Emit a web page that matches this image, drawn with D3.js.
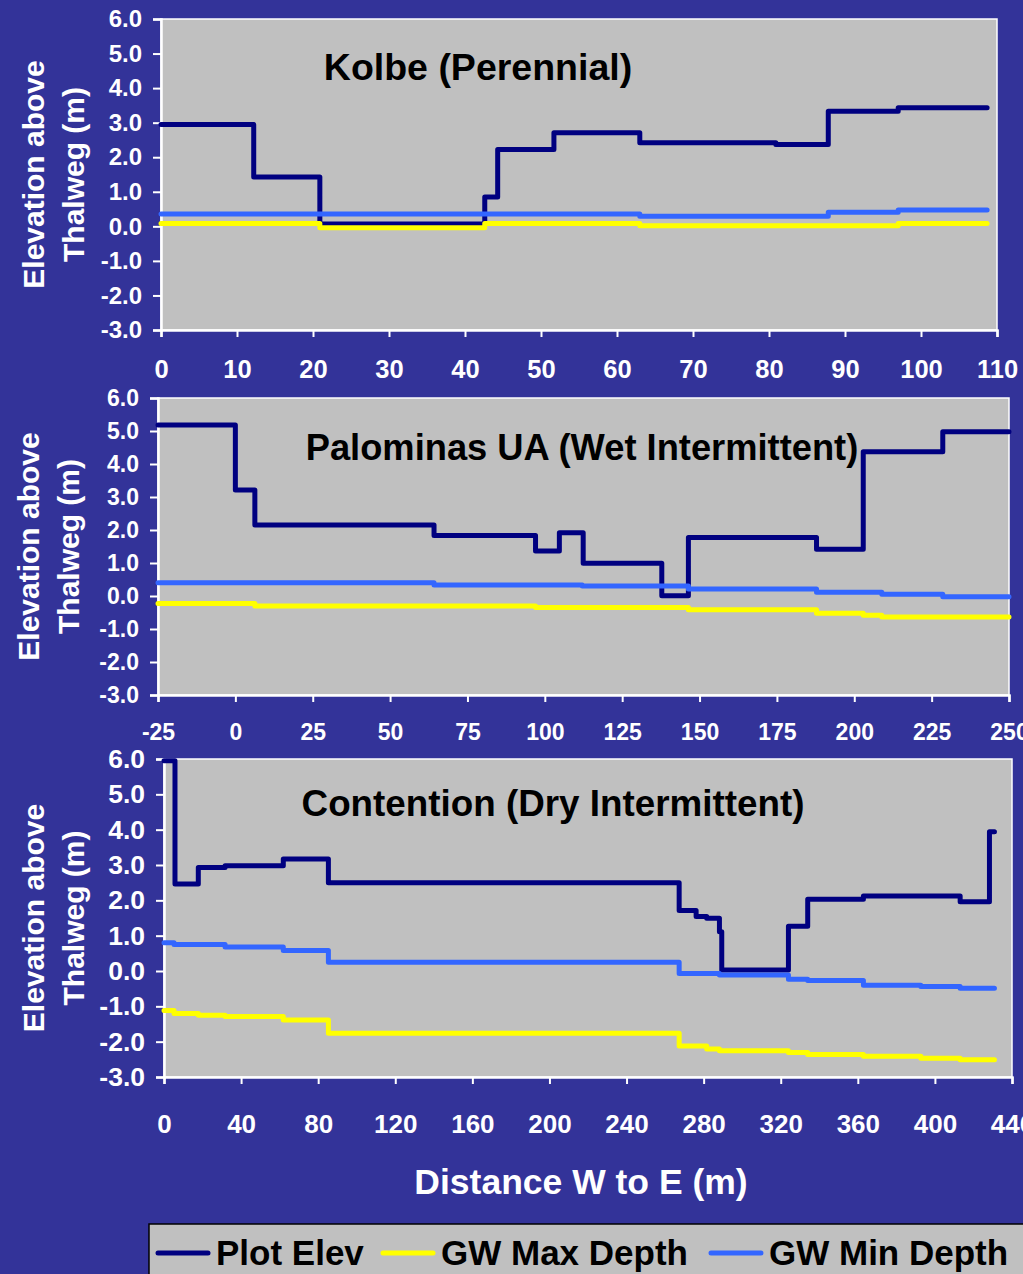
<!DOCTYPE html>
<html><head><meta charset="utf-8">
<script src="https://cdn.jsdelivr.net/npm/d3@7"></script>
<style>
html,body{margin:0;padding:0;background:#333399;}
svg{display:block;font-family:"Liberation Sans",Arial,sans-serif;font-weight:bold;}
</style></head><body>
<svg id="chart" width="1023" height="1274"></svg>
<script>
// ---------- DATA ----------
const seriesNames = ["Plot Elev", "GW Max Depth", "GW Min Depth"];
const seriesColors = ["#000080", "#FFFF00", "#3366FF"];
const yTicks = [-3, -2, -1, 0, 1, 2, 3, 4, 5, 6];

// Kolbe (Perennial)
const kolbeTitle = "Kolbe (Perennial)";
const kolbeXTicks = [0, 10, 20, 30, 40, 50, 60, 70, 80, 90, 100, 110];
const kolbeElevX = [0, 12.2, 20.9, 42.6, 44.3, 51.7, 63.0, 80.9, 87.8, 97.0, 108.7];
const kolbeElevY = [2.95, 1.43, 0.07, 0.85, 2.22, 2.71, 2.42, 2.37, 3.33, 3.43, 3.43];
const kolbeMaxX = [0, 20.9, 42.6, 63.0, 97.0, 108.7];
const kolbeMaxY = [0.08, -0.04, 0.08, 0.02, 0.08, 0.08];
const kolbeMinX = [0, 63.0, 87.8, 97.0, 108.7];
const kolbeMinY = [0.36, 0.29, 0.41, 0.47, 0.47];

// Palominas UA (Wet Intermittent)
const palTitle = "Palominas UA (Wet Intermittent)";
const palXTicks = [-25, 0, 25, 50, 75, 100, 125, 150, 175, 200, 225, 250];
const palElevX = [-25, 0, 6.3, 64.2, 97, 104.7, 112.4, 137.8, 146.4, 187.8, 202.9, 228.6, 250];
const palElevY = [5.18, 3.21, 2.15, 1.83, 1.36, 1.92, 0.99, 0.01, 1.77, 1.42, 4.37, 4.98, 4.98];
const palMaxX = [-25, 6.3, 97, 146.4, 187.8, 202.9, 208.9, 250];
const palMaxY = [-0.23, -0.30, -0.35, -0.42, -0.52, -0.58, -0.64, -0.64];
const palMinX = [-25, 64.2, 112.1, 146.4, 187.8, 208.9, 228.6, 250];
const palMinY = [0.40, 0.33, 0.30, 0.21, 0.11, 0.05, -0.02, -0.02];

// Contention (Dry Intermittent)
const conTitle = "Contention (Dry Intermittent)";
const conXTicks = [0, 40, 80, 120, 160, 200, 240, 280, 320, 360, 400, 440];
const conElevX = [0, 5.7, 17.8, 31.7, 61.9, 85.3, 267.3, 276.1, 281.6, 288.2, 289.4, 324.0, 334.0, 362.9, 413.1, 428.3, 430.9];
const conElevY = [5.95, 2.46, 2.93, 2.98, 3.17, 2.50, 1.71, 1.54, 1.49, 1.11, 0.03, 1.27, 2.03, 2.12, 1.96, 3.94, 3.94];
const conMaxX = [0, 5.2, 17.8, 31.7, 61.9, 85.3, 267.3, 281.6, 288.2, 324, 334, 362.9, 392.7, 413.1, 430.9];
const conMaxY = [-1.12, -1.20, -1.25, -1.29, -1.39, -1.76, -2.12, -2.21, -2.26, -2.31, -2.36, -2.41, -2.47, -2.51, -2.51];
const conMinX = [0, 5.2, 31.7, 61.9, 85.3, 267.3, 288.2, 324, 334, 362.9, 392.7, 413.1, 430.9];
const conMinY = [0.80, 0.75, 0.68, 0.58, 0.25, -0.07, -0.11, -0.23, -0.27, -0.40, -0.44, -0.49, -0.49];

const yTitle1 = "Elevation above";
const yTitle2 = "Thalweg (m)";
const xTitle = "Distance W to E (m)";

// ---------- LAYOUT ----------
const panels = [
  { title: kolbeTitle, xTicks: kolbeXTicks,
    series: [[kolbeElevX, kolbeElevY], [kolbeMaxX, kolbeMaxY], [kolbeMinX, kolbeMinY]],
    box: { l: 161, r: 997, t: 19, b: 330 }, yFont: 24, xFont: 25.5, xLabelY: 378,
    titleX: 478, titleY: 80, titleFont: 37.5, yTitleX: [44, 84] },
  { title: palTitle, xTicks: palXTicks,
    series: [[palElevX, palElevY], [palMaxX, palMaxY], [palMinX, palMinY]],
    box: { l: 158, r: 1009, t: 398, b: 695 }, yFont: 23, xFont: 23, xLabelY: 740,
    titleX: 582, titleY: 460, titleFont: 36.3, yTitleX: [39, 79] },
  { title: conTitle, xTicks: conXTicks,
    series: [[conElevX, conElevY], [conMaxX, conMaxY], [conMinX, conMinY]],
    box: { l: 164, r: 1012, t: 759, b: 1077 }, yFont: 26.5, xFont: 26, xLabelY: 1133,
    titleX: 553, titleY: 816, titleFont: 36.8, yTitleX: [44, 84] }
];

const fmtY = v => d3.format(".1f")(v).replace("\u2212", "-");
const fmtX = v => String(v);

const svg = d3.select("#chart");
svg.append("rect").attr("width", 1023).attr("height", 1274).attr("fill", "#333399");

panels.forEach(p => {
  const b = p.box;
  const x = d3.scaleLinear().domain([p.xTicks[0], p.xTicks[p.xTicks.length - 1]]).range([b.l, b.r]);
  const y = d3.scaleLinear().domain([-3, 6]).range([b.b, b.t]);
  const g = svg.append("g");

  g.append("rect").attr("x", b.l).attr("y", b.t).attr("width", b.r - b.l).attr("height", b.b - b.t)
    .attr("fill", "#C0C0C0").attr("stroke", "#FFFFFF").attr("stroke-width", 1.5);

  // Y axis
  const ya = g.append("g").attr("transform", `translate(${b.l},0)`)
    .call(d3.axisLeft(y).tickValues(yTicks).tickFormat(fmtY).tickSize(8).tickPadding(11));
  ya.select(".domain").attr("stroke", "#fff").attr("stroke-width", 2.5);
  ya.selectAll(".tick line").attr("stroke", "#fff").attr("stroke-width", 2);
  ya.selectAll(".tick text").attr("fill", "#fff").attr("font-size", p.yFont)
    .attr("font-weight", "bold").attr("font-family", "Liberation Sans, Arial, sans-serif");

  // X axis
  const xa = g.append("g").attr("transform", `translate(0,${b.b})`)
    .call(d3.axisBottom(x).tickValues(p.xTicks).tickFormat(fmtX).tickSize(7));
  xa.select(".domain").attr("stroke", "#fff").attr("stroke-width", 2.5);
  xa.selectAll(".tick line").attr("stroke", "#fff").attr("stroke-width", 2);
  xa.selectAll(".tick text").attr("fill", "#fff").attr("font-size", p.xFont)
    .attr("font-weight", "bold").attr("font-family", "Liberation Sans, Arial, sans-serif")
    .attr("dy", null).attr("y", p.xLabelY - b.b);

  // Lines (series order: Plot Elev, GW Max, GW Min — later on top)
  const line = d3.line().x(d => x(d[0])).y(d => y(d[1])).curve(d3.curveStepAfter);
  p.series.forEach((s, i) => {
    const pts = s[0].map((v, k) => [v, s[1][k]]);
    g.append("path").datum(pts).attr("d", line).attr("fill", "none")
      .attr("stroke", seriesColors[i]).attr("stroke-width", 5)
      .attr("stroke-linejoin", "round").attr("stroke-linecap", "round");
  });

  // Title
  g.append("text").attr("x", p.titleX).attr("y", p.titleY).attr("text-anchor", "middle")
    .attr("font-size", p.titleFont).attr("fill", "#000").text(p.title);

  // Y title
  const cy = (b.t + b.b) / 2;
  [yTitle1, yTitle2].forEach((t, k) => {
    g.append("text").attr("transform", `translate(${p.yTitleX[k]},${cy}) rotate(-90)`)
      .attr("text-anchor", "middle").attr("font-size", 30).attr("fill", "#fff").text(t);
  });
});

// X title
svg.append("text").attr("x", 581).attr("y", 1194).attr("text-anchor", "middle")
  .attr("font-size", 35.5).attr("fill", "#fff").text(xTitle);

// Legend
const lg = svg.append("g");
lg.append("rect").attr("x", 149).attr("y", 1224).attr("width", 900).attr("height", 80)
  .attr("fill", "#C0C0C0").attr("stroke", "#000").attr("stroke-width", 1.5);
const legX = [158, 383, 711];
seriesNames.forEach((n, i) => {
  lg.append("line").attr("x1", legX[i]).attr("x2", legX[i] + 50).attr("y1", 1253).attr("y2", 1253)
    .attr("stroke", seriesColors[i]).attr("stroke-width", 5).attr("stroke-linecap", "round");
  lg.append("text").attr("x", legX[i] + 58).attr("y", 1265).attr("font-size", 35)
    .attr("fill", "#000").text(n);
});
</script>
</body></html>
